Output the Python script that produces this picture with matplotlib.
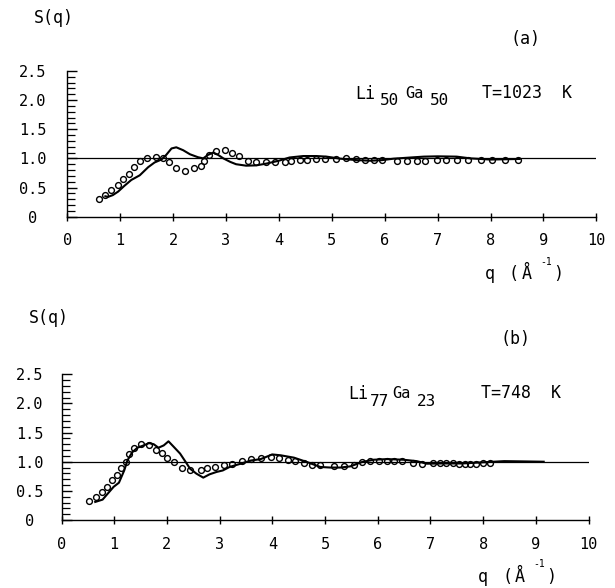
import matplotlib
matplotlib.use("Agg")
import matplotlib.pyplot as plt
from matplotlib.ticker import MultipleLocator, FixedLocator

plt.rcParams['font.family'] = ['DejaVu Sans Mono', 'DejaVu Sans']

# ---------------- data ----------------
# panel (a) Li50Ga50, T=1023 K
qa_exp = [0.60, 0.72, 0.82, 0.95, 1.05, 1.16, 1.27, 1.37, 1.51, 1.67, 1.81, 1.92, 2.06, 2.23, 2.40,
          2.52, 2.59, 2.68, 2.82, 2.98, 3.11, 3.25, 3.41, 3.57, 3.76, 3.92, 4.11, 4.23, 4.39, 4.54,
          4.70, 4.87, 5.08, 5.26, 5.46, 5.63, 5.80, 5.95, 6.23, 6.43, 6.62, 6.77, 6.98, 7.16, 7.36,
          7.58, 7.82, 8.03, 8.28, 8.52]
Sa_exp = [0.30, 0.37, 0.45, 0.55, 0.64, 0.74, 0.85, 0.95, 1.01, 1.03, 1.00, 0.93, 0.84, 0.79, 0.83,
          0.87, 0.95, 1.06, 1.13, 1.14, 1.10, 1.04, 0.96, 0.94, 0.93, 0.93, 0.94, 0.96, 0.97, 0.98,
          0.99, 0.99, 0.99, 1.00, 0.99, 0.98, 0.97, 0.97, 0.95, 0.95, 0.95, 0.96, 0.97, 0.97, 0.97,
          0.97, 0.97, 0.97, 0.97, 0.97]
qa_th = [0.72, 0.77, 0.86, 0.96, 1.08, 1.21, 1.37, 1.53, 1.65, 1.78, 1.87, 1.97, 2.06, 2.19, 2.32,
         2.47, 2.57, 2.66, 2.76, 2.85, 2.95, 3.08, 3.19, 3.38, 3.57, 3.76, 4.00, 4.20, 4.46, 4.71,
         4.90, 5.16, 5.47, 5.73, 5.95, 6.17, 6.49, 6.74, 7.00, 7.36, 7.62, 8.00, 8.55]
Sa_th = [0.35, 0.34, 0.37, 0.43, 0.53, 0.63, 0.71, 0.85, 0.93, 0.98, 1.06, 1.17, 1.19, 1.14, 1.07,
         1.02, 1.00, 1.06, 1.10, 1.06, 1.00, 0.94, 0.90, 0.875, 0.88, 0.91, 0.96, 1.015, 1.04, 1.04,
         1.03, 0.995, 0.97, 0.96, 0.97, 0.995, 1.015, 1.03, 1.035, 1.03, 1.00, 0.98, 0.99]

# panel (b) Li77Ga23, T=748 K
qb_exp = [0.53, 0.66, 0.77, 0.87, 0.96, 1.05, 1.13, 1.22, 1.29, 1.375, 1.51, 1.66, 1.79, 1.91, 2.01,
          2.14, 2.29, 2.44, 2.64, 2.76, 2.91, 3.08, 3.24, 3.43, 3.59, 3.78, 3.97, 4.13, 4.30, 4.44,
          4.60, 4.76, 4.91, 5.17, 5.36, 5.55, 5.70, 5.86, 6.02, 6.18, 6.30, 6.46, 6.67, 6.84, 7.05,
          7.18, 7.30, 7.43, 7.54, 7.65, 7.76, 7.87, 8.00, 8.13]
Sb_exp = [0.32, 0.40, 0.48, 0.57, 0.68, 0.78, 0.90, 1.00, 1.14, 1.24, 1.30, 1.28, 1.20, 1.15, 1.07,
          0.99, 0.90, 0.85, 0.85, 0.89, 0.91, 0.95, 0.96, 1.02, 1.045, 1.06, 1.08, 1.07, 1.03, 1.02,
          0.98, 0.95, 0.94, 0.93, 0.93, 0.95, 0.99, 1.01, 1.02, 1.02, 1.02, 1.02, 0.98, 0.96, 0.97,
          0.97, 0.97, 0.97, 0.96, 0.96, 0.96, 0.96, 0.97, 0.97]
qb_th = [0.64, 0.78, 0.875, 0.99, 1.09, 1.19, 1.25, 1.34, 1.44, 1.56, 1.66, 1.75, 1.84, 1.94, 2.03,
         2.125, 2.25, 2.375, 2.44, 2.56, 2.69, 2.81, 2.94, 3.06, 3.19, 3.40, 3.59, 3.78, 4.00, 4.16,
         4.41, 4.66, 4.91, 5.10, 5.29, 5.48, 5.70, 5.92, 6.18, 6.49, 6.74, 6.93, 7.20, 7.60, 8.00,
         8.40, 8.80, 9.15]
Sb_th = [0.31, 0.35, 0.45, 0.57, 0.64, 0.85, 1.02, 1.16, 1.24, 1.28, 1.32, 1.30, 1.24, 1.28, 1.35,
         1.26, 1.14, 0.97, 0.88, 0.795, 0.727, 0.784, 0.824, 0.85, 0.91, 0.966, 1.02, 1.045, 1.125, 1.11,
         1.07, 0.994, 0.91, 0.90, 0.90, 0.92, 0.994, 1.034, 1.045, 1.034, 1.01, 0.966, 0.97, 0.97, 0.99,
         1.01, 1.005, 1.00]

x_ticks = list(range(0, 11))
x_ticklabels = [str(v) for v in x_ticks]
y_ticks = [0, 0.5, 1.0, 1.5, 2.0, 2.5]
y_ticklabels = ['0', '0.5', '1.0', '1.5', '2.0', '2.5']

# ---------------- figure ----------------
W, H = 615, 588
fig = plt.figure(figsize=(W / 100, H / 100), dpi=100)


def P(x, y):
    return x / W, 1 - y / H


def make_axes(rect, ypad):
    ax = fig.add_axes(rect)
    ax.set_xlim(0, 10)
    ax.set_ylim(0, 2.5)
    for s in ('top', 'right'):
        ax.spines[s].set_visible(False)
    for s in ('left', 'bottom'):
        ax.spines[s].set_linewidth(1.0)
    ax.xaxis.set_major_locator(FixedLocator(x_ticks))
    ax.set_xticklabels(x_ticklabels)
    ax.yaxis.set_major_locator(FixedLocator(y_ticks))
    ax.set_yticklabels(y_ticklabels)
    ax.yaxis.set_minor_locator(MultipleLocator(0.1))
    ax.tick_params(axis='x', which='major', direction='inout', length=6, width=1.0,
                   labelsize=11, pad=9)
    ax.tick_params(axis='y', which='major', direction='in', length=7, width=1.0,
                   labelsize=11, pad=ypad)
    ax.tick_params(axis='y', which='minor', direction='in', length=5.5, width=0.9)
    for lbl in ax.get_yticklabels():
        lbl.set_horizontalalignment('center')
    ax.axhline(1.0, color='black', lw=0.9, zorder=1)
    return ax


ax_a = make_axes([67.3 / W, (H - 216.7) / H, 529 / W, 145.8 / H], 25)
ax_b = make_axes([61.5 / W, (H - 520) / H, 527 / W, 145.7 / H], 23)

for ax, qe, se, qt, st in ((ax_a, qa_exp, Sa_exp, qa_th, Sa_th),
                           (ax_b, qb_exp, Sb_exp, qb_th, Sb_th)):
    ax.plot(qt, st, color='black', lw=1.5, zorder=3)
    ax.plot(qe, se, linestyle='none', marker='o', markersize=4.2, markerfacecolor='none',
            markeredgecolor='black', markeredgewidth=1.0, zorder=4)

FS = 12


def txt(x, y, s, size=FS, ha='left', va='baseline'):
    fig.text(*P(x, y), s, fontsize=size, ha=ha, va=va, color='black')


# panel (a) texts
txt(54, 18, 'S(q)', size=12, ha='center', va='center')
txt(526, 39, '(a)', size=12, ha='center', va='center')
txt(355, 99, 'Li')
txt(380, 105, '50', size=11.5)
txt(405, 98, 'Ga', size=11)
txt(430, 105, '50', size=11.5)
txt(482, 98, 'T=1023  K')
txt(485, 279, 'q')
txt(509, 279, '(')
txt(522, 279, 'Å')
txt(540, 265, '-1', size=7)
txt(553, 279, ')')

# panel (b) texts
txt(49, 318, 'S(q)', size=12, ha='center', va='center')
txt(515, 339, '(b)', size=12, ha='center', va='center')
txt(348, 399, 'Li')
txt(370, 406, '77', size=11.5)
txt(392, 398, 'Ga', size=11)
txt(417, 406, '23', size=11.5)
txt(481, 398, 'T=748  K')
txt(478, 582, 'q')
txt(503, 582, '(')
txt(515, 582, 'Å')
txt(533, 567, '-1', size=7)
txt(546, 582, ')')

fig.savefig('out.png', dpi=100)
